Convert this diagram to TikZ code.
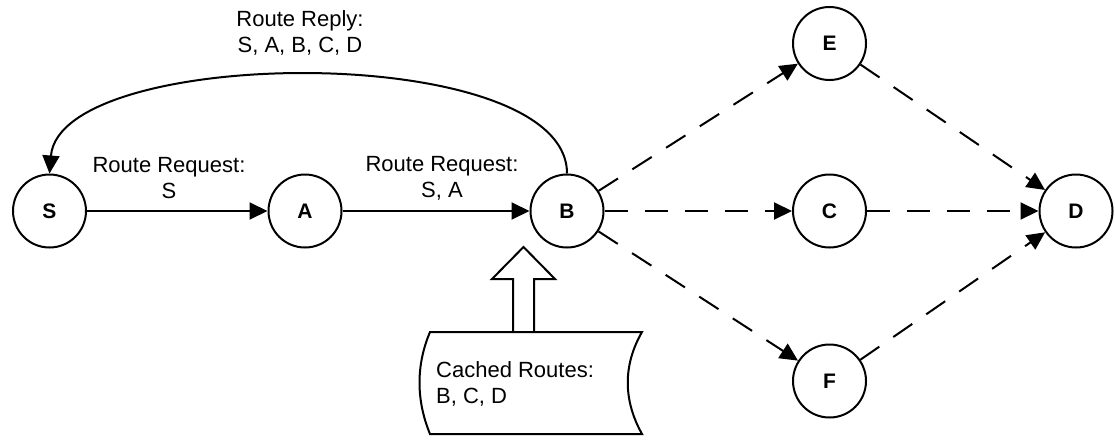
\documentclass[tikz,border=0pt]{standalone}
\usepackage{fontspec}
\setmainfont{Liberation Sans}
\usetikzlibrary{arrows.meta}

\begin{document}
\begin{tikzpicture}[x=1pt,y=-1pt,
  station/.style={draw, circle, line width=2pt, minimum size=73pt, inner sep=0pt,
    font=\fontsize{21}{21}\selectfont\bfseries},
  link/.style={line width=2pt, -{Triangle[length=18pt,width=17pt]}},
  route/.style={link, dash pattern=on 23pt off 17pt},
  lbl/.style={align=center, inner sep=0pt, font=\fontsize{22}{26}\selectfont},
  outline/.style={line width=2pt, line join=miter},
]
\useasboundingbox (0,0) rectangle (1115,439);

% stations
\node[station] (S) at (49.5,211) {S};
\node[station] (A) at (305,211) {A};
\node[station] (B) at (567,211) {B};
\node[station] (E) at (829.5,43.5) {E};
\node[station] (C) at (829.5,211) {C};
\node[station] (F) at (829.5,381) {F};
\node[station] (D) at (1076,211) {D};

% request path
\draw[link] (S) -- (A);
\draw[link] (A) -- (B);

% reply back to the source
\draw[link] (B.north) .. controls (567,40) and (60,45) .. (S.north);

% cached routes towards the destination
\draw[route] (B) -- (E);
\draw[route] (B) -- (C);
\draw[route] (B) -- (F);
\draw[route] (E) -- (D);
\draw[route] (C) -- (D);
\draw[route] (F) -- (D);

% labels
\node[lbl] (req1) at (169,178) {Route Request:\\S};
\node[lbl] (req2) at (442,178) {Route Request:\\S, A};
\node[lbl] (reply) at (300,33) {Route Reply:\\S, A, B, C, D};

% route cache document
\draw[outline] (430,332) -- (642,332)
  .. controls (623,365) and (623,400) .. (642,434)
  -- (430,434)
  .. controls (416,400) and (416,365) .. (430,332) -- cycle;
\node[lbl, align=left, anchor=north west] (cache) at (436,361) {Cached Routes:\\B, C, D};

% hollow arrow from the cache up to B
\coordinate (cachetop) at (523.5,332);
\draw[outline] ([xshift=-10.5pt]cachetop) -- ++(0,-53) -- ++(-21,0)
  -- ++(31.5,-32) -- ++(31.5,32) -- ++(-21,0) -- ([xshift=10.5pt]cachetop);
\end{tikzpicture}
\end{document}
